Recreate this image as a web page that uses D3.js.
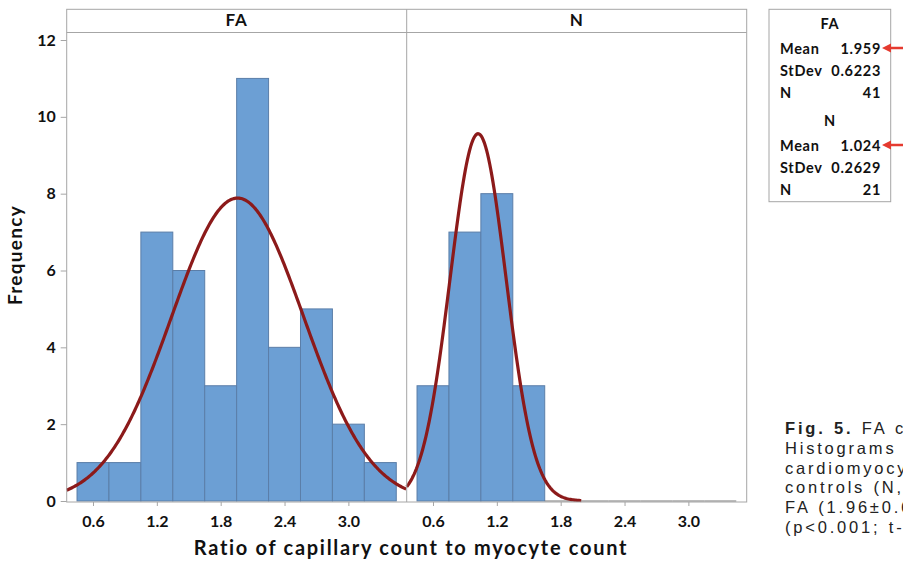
<!DOCTYPE html>
<html lang="en">
<head>
<meta charset="UTF-8">
<title>FA vs N histogram</title>
<style>
    body { margin: 0; background: #fff; }
    svg text { font-family: Lato, "Open Sans", sans-serif; font-weight: bold; fill: #111; }
    .frame { fill: none; stroke: #a6a6a6; stroke-width: 1; }
    .bar { fill: #6c9fd4; stroke: #5b7ea8; stroke-width: 1; }
    .curve { fill: none; stroke: #8c1a1a; stroke-width: 3.2; }
    .tick line { stroke: #a6a6a6; }
    .stat { font-size: 14.5px; letter-spacing: 0.7px; }
    .caption { font-family: "Liberation Sans", Arial, sans-serif; font-weight: normal; font-size: 16.5px; letter-spacing: 2.8px; word-spacing: 1px; fill: #222; }
</style>
</head>
<body>
<script src="https://d3js.org/d3.v7.min.js"></script>
<script>
    var width = 903, height = 562;

    // bins shared by both panels
    var binEdges = [0.45, 0.75, 1.05, 1.35, 1.65, 1.95, 2.25, 2.55, 2.85, 3.15, 3.45];
    var faCounts = [1, 1, 7, 6, 3, 11, 4, 5, 2, 1];
    var nCounts = [3, 7, 8, 3, 0, 0, 0, 0, 0, 0];
    var groups = ['FA', 'N'];
    var means = [1.959, 1.024];
    var stdevs = [0.6223, 0.2629];
    var sizes = [41, 21];
    var curveEnd = [3.548, 2.0];
    var xTicks = [0.6, 1.2, 1.8, 2.4, 3.0];
    var yTicks = [0, 2, 4, 6, 8, 10, 12];
    var captionLines = ['Fig. 5. FA cardiac capillary density.',
        'Histograms of capillary count to',
        'cardiomyocyte count ratio in FA and',
        'controls (N, right) show higher ratio in',
        'FA (1.96±0.62) than in N (1.02±0.26)',
        '(p<0.001; t-test).'];

    var plot = { left: 66.7, top: 9.3, head: 32.5, right: 746.7, bottom: 502 };
    var panelW = (plot.right - plot.left) / 2;

    var svg = d3.select('body').append('svg').attr('width', width).attr('height', height);

    var x = d3.scaleLinear().domain([0.353, 3.548]).range([0, panelW]);
    var y = d3.scaleLinear().domain([0, 12]).range([501, 40]);
    var binW = binEdges[1] - binEdges[0];

    var countsBy = [faCounts, nCounts];

    groups.forEach(function (g, gi) {
        var px = plot.left + gi * panelW;
        var panel = svg.append('g').attr('transform', 'translate(' + px + ',0)');

        var bins = countsBy[gi].map(function (c, i) { return { x0: binEdges[i], x1: binEdges[i + 1], n: c }; });

        panel.selectAll('rect.bar')
            .data(bins.filter(function (d) { return d.n > 0; }))
            .enter().append('rect')
            .attr('class', 'bar')
            .attr('x', function (d) { return x(d.x0); })
            .attr('y', function (d) { return y(d.n); })
            .attr('width', function (d) { return x(d.x1) - x(d.x0); })
            .attr('height', function (d) { return y(0) - y(d.n); });

        // empty bins show as a flat line
        panel.selectAll('line.empty')
            .data(bins.filter(function (d) { return d.n === 0; }))
            .enter().append('line')
            .attr('x1', function (d) { return x(d.x0); })
            .attr('x2', function (d) { return x(d.x1); })
            .attr('y1', y(0)).attr('y2', y(0))
            .attr('stroke', '#777').attr('stroke-width', 1);

        // fitted normal curve
        var scale = sizes[gi] * binW / (stdevs[gi] * Math.sqrt(2 * Math.PI));
        var pts = d3.range(0.353, curveEnd[gi] + 0.0001, 0.01).map(function (v) {
            var z = (v - means[gi]) / stdevs[gi];
            return [v, scale * Math.exp(-0.5 * z * z)];
        });
        panel.append('path')
            .attr('class', 'curve')
            .attr('d', d3.line().x(function (d) { return x(d[0]); }).y(function (d) { return y(d[1]); })(pts));

        // x axis
        var xa = panel.append('g').attr('transform', 'translate(0,' + plot.bottom + ')')
            .call(d3.axisBottom(x).tickValues(xTicks).tickFormat(d3.format('.1f')).tickSize(4).tickSizeOuter(0));
        xa.select('.domain').remove();
        xa.selectAll('text').attr('font-size', 16).attr('dy', 0).attr('y', 24.7).attr('font-family', 'Lato');

        // header label
        svg.append('text')
            .attr('x', px + panelW / 2).attr('y', 26)
            .attr('text-anchor', 'middle').attr('font-size', 17).attr('letter-spacing', 1)
            .text(g);
    });

    // frame, header and divider
    svg.append('rect').attr('class', 'frame')
        .attr('x', plot.left).attr('y', plot.top)
        .attr('width', plot.right - plot.left).attr('height', plot.bottom - plot.top);
    svg.append('line').attr('class', 'frame')
        .attr('x1', plot.left).attr('x2', plot.right).attr('y1', plot.head).attr('y2', plot.head);
    svg.append('line').attr('class', 'frame')
        .attr('x1', plot.left + panelW).attr('x2', plot.left + panelW).attr('y1', plot.top).attr('y2', plot.bottom);

    // y axis
    var ya = svg.append('g').attr('transform', 'translate(' + plot.left + ',0)')
        .call(d3.axisLeft(y).tickValues(yTicks).tickSize(6).tickSizeOuter(0));
    ya.select('.domain').remove();
    ya.selectAll('text').attr('font-size', 16).attr('x', -11).attr('font-family', 'Lato');

    // axis titles
    svg.append('text')
        .attr('x', 411).attr('y', 555)
        .attr('text-anchor', 'middle').attr('font-size', 20).attr('letter-spacing', 1.7)
        .text('Ratio of capillary count to myocyte count');
    svg.append('text')
        .attr('transform', 'translate(22,255) rotate(-90)')
        .attr('text-anchor', 'middle').attr('font-size', 19).attr('letter-spacing', 1.3)
        .text('Frequency');

    // stats box
    var box = svg.append('g');
    box.append('rect').attr('x', 769).attr('y', 9.3).attr('width', 121.7).attr('height', 192.4)
        .attr('fill', '#fff').attr('stroke', '#a6a6a6');
    var rowLabels = ['Mean', 'StDev', 'N'];
    groups.forEach(function (g, gi) {
        var top = 29 + gi * 97;
        box.append('text').attr('class', 'stat').attr('x', 830).attr('y', top).attr('text-anchor', 'middle')
            .text(g);
        var vals = [means[gi].toFixed(3), stdevs[gi].toFixed(4), sizes[gi]];
        rowLabels.forEach(function (r, ri) {
            var by = top + 25 + ri * 22;
            box.append('text').attr('class', 'stat').attr('x', 780).attr('y', by).text(r);
            box.append('text').attr('class', 'stat').attr('x', 881).attr('y', by).attr('text-anchor', 'end')
                .text(vals[ri]);
        });
        // red arrow pointing at the mean
        var ay = top + 19;
        box.append('line').attr('x1', 889).attr('x2', 910).attr('y1', ay).attr('y2', ay)
            .attr('stroke', '#e53a2f').attr('stroke-width', 2.5);
        box.append('path').attr('d', 'M882,' + ay + 'L891,' + (ay - 4.5) + 'L891,' + (ay + 4.5) + 'Z')
            .attr('fill', '#e53a2f');
    });

    // caption (cut off by the page edge, as in the source figure)
    var cap = svg.append('text').attr('class', 'caption');
    captionLines.forEach(function (line, i) {
        var t = cap.append('tspan').attr('x', 785).attr('y', 434.3 + i * 19.7);
        if (i === 0) {
            t.append('tspan').attr('font-weight', 'bold').text('Fig. 5.');
            t.append('tspan').text(line.slice(7));
        } else {
            t.text(line);
        }
    });
</script>
</body>
</html>
